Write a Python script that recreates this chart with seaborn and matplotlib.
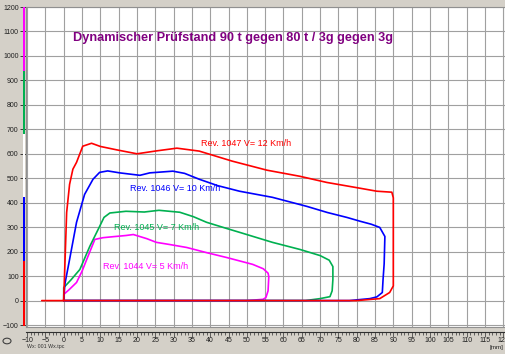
import numpy as np
import pandas as pd
import matplotlib
matplotlib.use("Agg")
import matplotlib.pyplot as plt
import seaborn as sns

# force [kN-ish] vs travel [mm] loops
red_x = [-6, 0, 0, 0.8, 1.6, 2.5, 3.5, 5.2, 7.6, 10, 14.5, 20, 25.4, 30.9, 37, 46, 55.5,
         64.5, 71.8, 81, 85.5, 89.6, 90, 90, 89, 86.3, 80, 40, 0]
red_y = [0, 0, 4, 360, 475, 537, 565, 631, 643, 630, 616, 600, 612, 623, 611, 570, 533,
         508, 483, 459, 447, 443, 420, 60, 33, 8, 0, 0, 0]

blue_x = [0, 0.3, 1.6, 3.5, 5.7, 8, 9.8, 12, 15.3, 20.8, 23.5, 29.8, 33, 37, 42, 48, 57,
          66.4, 72, 77.3, 81, 84, 86.3, 87.7, 87.5, 87.2, 87, 85.5, 83.6, 78, 40, 0]
blue_y = [0, 66, 168, 320, 434, 496, 524, 530, 522, 512, 522, 529, 520, 496, 470, 447, 422,
          385, 360, 340, 324, 312, 299, 262, 150, 86, 33, 15, 8, 0, 0, 0]

green_x = [0, 0, 2, 4.4, 7.1, 9.8, 11, 12.6, 17, 22, 26, 31.7, 35.4, 39, 44, 48, 57,
           64.5, 70, 72.5, 73.5, 73.5, 73.3, 72.7, 70, 66, 40, 0]
green_y = [0, 53, 85, 127, 221, 303, 340, 358, 365, 362, 369, 361, 343, 320, 297, 279, 238,
           209, 184, 165, 139, 86, 40, 16, 8, 0, 0, 0]

mag_x = [0, 0, 1.5, 3.5, 5, 6.6, 8.5, 10.7, 13.4, 17, 19, 22.7, 25.3, 29, 33.6, 39, 44.5,
         51.6, 54.5, 55.8, 56, 55.8, 55.2, 54.4, 50, 30, 0]
mag_y = [0, 25, 45, 74, 120, 180, 250, 257, 261, 266, 270, 253, 238, 229, 217, 196, 176,
         148, 130, 112, 98, 40, 12, 5, 0, 0, 0]

labels = ["Rev. 1047 V= 12 Km/h", "Rev. 1046 V= 10 Km/h", "Rev. 1045 V= 7 Km/h", "Rev. 1044 V= 5 Km/h"]
label_pos = [(37.4, 643), (18, 459), (13.7, 299), (10.7, 139)]
title = "Dynamischer Prüfstand 90 t gegen 80 t / 3g gegen 3g"

RED, BLUE, GREEN, MAG = "#ff0000", "#0000ff", "#00b050", "#ff00ff"
PANEL = "#d4d0c8"

sns.set_style("white")
plt.rcParams["font.family"] = ["Liberation Sans", "DejaVu Sans"]

W, H = 505, 354
fig = plt.figure(figsize=(W / 100, H / 100), dpi=100, facecolor=PANEL)

def box(l, t, r, b):
    return [l / W, 1 - b / H, (r - l) / W, (b - t) / H]

ax = fig.add_axes(box(26, 7, 505, 327))
ax.set_facecolor("white")

for xs, ys, c in [(mag_x, mag_y, MAG), (green_x, green_y, GREEN),
                  (blue_x, blue_y, BLUE), (red_x, red_y, RED)]:
    sns.lineplot(x=xs, y=ys, sort=False, estimator=None, color=c, lw=1.2, ax=ax)

ax.set_xlim(-10.3, 120.5)
ax.set_ylim(-108, 1200)
ax.set_xticks(np.arange(-10, 121, 5))
ax.set_yticks(np.arange(-100, 1201, 100))
ax.grid(True, color="#a0a0a0", lw=0.8)
ax.tick_params(axis="x", bottom=False, labelbottom=False)
ax.tick_params(axis="y", left=True, length=4.5, width=0.6, labelsize=5, pad=0.8,
               colors="#202020")
for s in ax.spines.values():
    s.set_color("#909090")
    s.set_linewidth(0.8)

for txt, (px, py), c in zip(labels, label_pos, [RED, BLUE, GREEN, MAG]):
    ax.text(px, py, txt, color=c, fontsize=6.5, va="center", ha="left")
ax.text(2.5, 1072, title, color="#800080", fontsize=9.2, fontweight="bold",
        va="center", ha="left")

# coloured channel strip on the left
strip = fig.add_axes(box(22.5, 7, 25, 326), sharey=ax)
strip.set_xlim(0, 1)
for lo, hi, c in [(936, 1200, MAG), (680, 936, GREEN), (422, 680, "white"),
                  (160, 422, BLUE), (-108, 160, RED)]:
    strip.axhspan(lo, hi, color=c, lw=0)
strip.axis("off")

# ruler for the x axis
ruler = fig.add_axes(box(26, 332, 505, 336), sharex=ax)
ruler.set_facecolor(PANEL)
ruler.set_ylim(0, 1)
for k in ["left", "right", "bottom"]:
    ruler.spines[k].set_visible(False)
ruler.spines["top"].set_color("#303030")
ruler.spines["top"].set_linewidth(0.8)
ruler.set_yticks([])
ruler.set_xticks(np.arange(-10, 121, 1), minor=True)
ruler.tick_params(axis="x", which="both", top=True, bottom=False, direction="in",
                  labeltop=False, labelbottom=True, color="#303030", width=0.5)
ruler.tick_params(axis="x", which="major", length=3.5, labelsize=5, pad=0.5,
                  labelcolor="#202020")
ruler.tick_params(axis="x", which="minor", length=1.8)

fig.text(503 / W, 1 - 347 / H, "[mm]", fontsize=4.5, color="#202020",
         va="center", ha="right")
fig.text(27 / W, 1 - 346.5 / H, "Wx: 001 Wx.tpc", fontsize=3.8, color="#303030",
         va="center")

# little zoom icon in the corner
icon = plt.Circle((7 / W, 1 - 341 / H), 4 / W, transform=fig.transFigure,
                  fill=False, ec="#404040", lw=0.8)
fig.patches.append(icon)

fig.savefig("out.png", dpi=100, facecolor=PANEL)
